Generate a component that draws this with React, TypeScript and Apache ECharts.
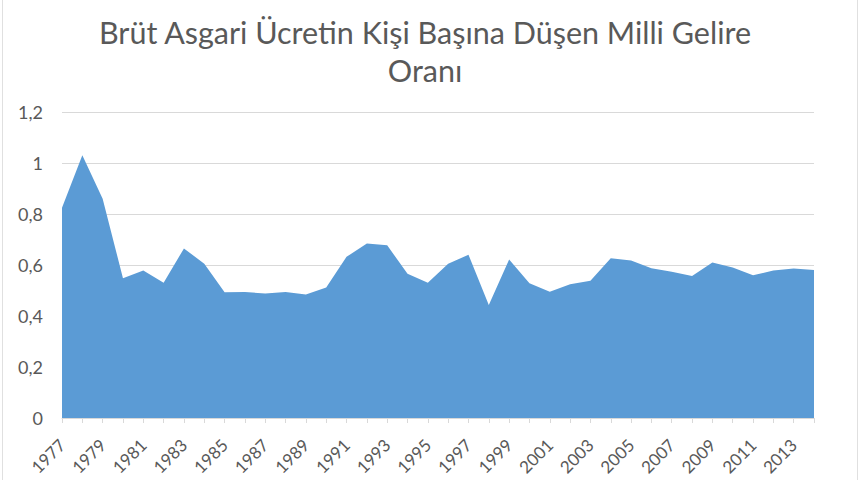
import React, { useEffect, useRef } from "react";
import * as echarts from "echarts";

const years: string[] = [
  "1977", "1978", "1979", "1980", "1981", "1982", "1983", "1984", "1985", "1986",
  "1987", "1988", "1989", "1990", "1991", "1992", "1993", "1994", "1995", "1996",
  "1997", "1998", "1999", "2000", "2001", "2002", "2003", "2004", "2005", "2006",
  "2007", "2008", "2009", "2010", "2011", "2012", "2013", "2014",
];

const ratio: number[] = [
  0.825, 1.03, 0.86, 0.548, 0.578, 0.53, 0.665, 0.605, 0.493, 0.494,
  0.488, 0.494, 0.484, 0.512, 0.632, 0.684, 0.677, 0.566, 0.53, 0.605,
  0.64, 0.443, 0.622, 0.528, 0.495, 0.525, 0.538, 0.626, 0.618, 0.587,
  0.574, 0.557, 0.61, 0.59, 0.56, 0.578, 0.586, 0.58,
];

const titleText = "Brüt Asgari Ücretin Kişi Başına Düşen Milli Gelire\nOranı";

const FONT = "Lato, 'Open Sans', sans-serif";
const GREY_TEXT = "#595959";
const GRID_GREY = "#d9d9d9";

export default function App() {
  const ref = useRef<HTMLDivElement>(null);
  useEffect(() => {
    if (!ref.current) return;
    const chart = echarts.init(ref.current, undefined, { renderer: "svg" });
    chart.setOption({
      animation: false,
      backgroundColor: "#ffffff",
      title: {
        text: titleText,
        left: 420,
        top: 8,
        textAlign: "center",
        textStyle: {
          fontFamily: FONT,
          fontSize: 30.5,
          fontWeight: "normal",
          color: GREY_TEXT,
          lineHeight: 38,
        },
      },
      grid: { left: 62, right: 46, top: 112, bottom: 62, outerBoundsMode: "none" },
      xAxis: {
        type: "category",
        data: years,
        boundaryGap: false,
        axisLine: { lineStyle: { color: GRID_GREY, width: 1 } },
        axisTick: { show: true, interval: 0, length: 5, lineStyle: { color: GRID_GREY } },
        axisLabel: {
          interval: 1,
          rotate: 45,
          margin: 24,
          fontFamily: FONT,
          fontSize: 17,
          color: GREY_TEXT,
        },
        splitLine: { show: false },
      },
      yAxis: {
        type: "value",
        min: 0,
        max: 1.2,
        interval: 0.2,
        axisLine: { show: false },
        axisTick: { show: false },
        axisLabel: {
          margin: 19,
          fontFamily: FONT,
          fontSize: 18,
          color: GREY_TEXT,
          formatter: (v: number) => String(Math.round(v * 10) / 10).replace(".", ","),
        },
        splitLine: { lineStyle: { color: GRID_GREY, width: 1 } },
      },
      series: [
        {
          type: "line",
          data: ratio,
          showSymbol: false,
          lineStyle: { width: 0, color: "#5b9bd5" },
          itemStyle: { color: "#5b9bd5" },
          areaStyle: { color: "#5b9bd5", opacity: 1 },
        },
      ],
      graphic: [
        {
          type: "rect",
          shape: { x: 2.5, y: -2, width: 855, height: 484 },
          style: { fill: "none", stroke: "#e0e0e0", lineWidth: 1 },
          silent: true,
        },
      ],
    });
    return () => chart.dispose();
  }, []);
  return (
    <div
      ref={ref}
      style={{ position: "fixed", left: 0, top: 0, width: 860, height: 480 }}
    />
  );
}
